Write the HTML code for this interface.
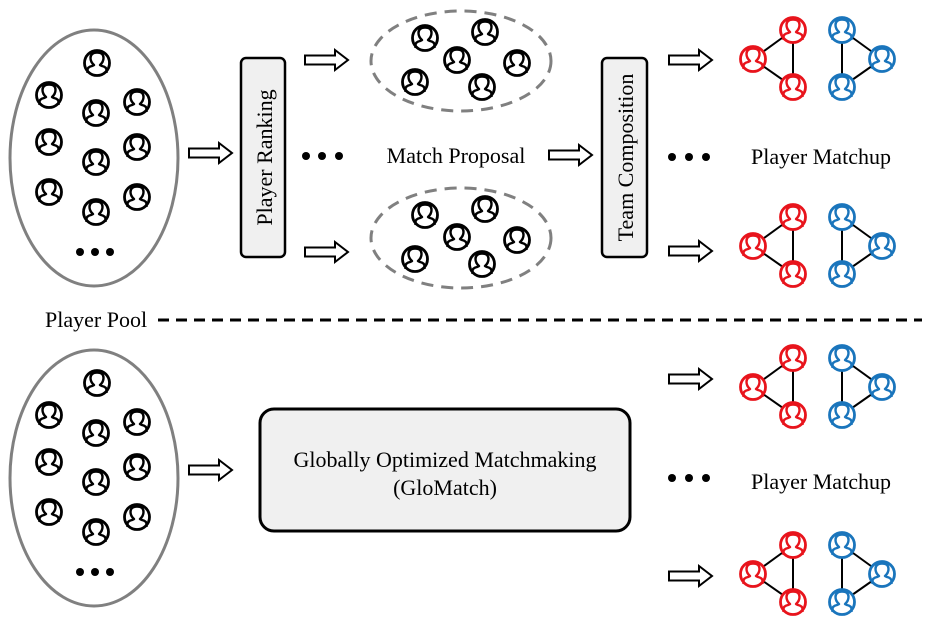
<!DOCTYPE html>
<html><head><meta charset="utf-8"><style>
html,body{margin:0;padding:0;background:#fff;}
svg{display:block;font-family:"Liberation Serif",serif;}
</style></head><body>
<svg width="940" height="632" viewBox="0 0 940 632" xmlns="http://www.w3.org/2000/svg">
<defs>
<g id="p">
 <circle cx="0" cy="0" r="12.5" fill="#fff" stroke="currentColor" stroke-width="2.8"/>
 <path d="M-9.5 10 L-9.5 7 Q-9.5 4 -5 3 L-3 2 Q-6.5 -1 -6.5 -5 Q-6.5 -10.5 0 -10.5 Q6.5 -10.5 6.5 -5 Q6.5 -1 3 2 L5 3 Q9.5 4 9.5 7 L9.5 10" fill="none" stroke="currentColor" stroke-width="2.4" stroke-linejoin="round"/>
</g>
<g id="ar"><path d="M0 -4.5 H30 V-10 L43 0 L30 10 V4.5 H0 Z" fill="#fff" stroke="#000" stroke-width="2" stroke-linejoin="miter"/></g>
<g id="mu">
 <line x1="793" y1="0" x2="753" y2="29" stroke="#000" stroke-width="2"/>
 <line x1="753" y1="29" x2="793" y2="57" stroke="#000" stroke-width="2"/>
 <line x1="793" y1="0" x2="793" y2="57" stroke="#000" stroke-width="2"/>
 <line x1="842" y1="0" x2="882" y2="29" stroke="#000" stroke-width="2"/>
 <line x1="882" y1="29" x2="842" y2="57" stroke="#000" stroke-width="2"/>
 <line x1="842" y1="0" x2="842" y2="57" stroke="#000" stroke-width="2"/>
 <g color="#e8141c"><use href="#p" x="793" y="0"/><use href="#p" x="753" y="29"/><use href="#p" x="793" y="57"/></g>
 <g color="#1a75bc"><use href="#p" x="842" y="0"/><use href="#p" x="882" y="29"/><use href="#p" x="842" y="57"/></g>
</g>
<g id="pool">
 <ellipse cx="94" cy="158" rx="84" ry="128" fill="#fff" stroke="#808080" stroke-width="3"/>
 <g color="#000">
 <use href="#p" x="97" y="63"/><use href="#p" x="49" y="95"/><use href="#p" x="137" y="102"/>
 <use href="#p" x="96" y="113"/><use href="#p" x="49" y="142"/><use href="#p" x="137" y="147"/>
 <use href="#p" x="96" y="162"/><use href="#p" x="49" y="192"/><use href="#p" x="137" y="197"/>
 <use href="#p" x="96" y="212"/>
 </g>
 <circle cx="80" cy="252" r="4"/><circle cx="95" cy="252" r="4"/><circle cx="110" cy="252" r="4"/>
</g>
<g id="prop">
 <ellipse cx="461" cy="0" rx="90" ry="50" fill="none" stroke="#808080" stroke-width="3" stroke-dasharray="12 8"/>
 <g color="#000">
 <use href="#p" x="425" y="-23"/><use href="#p" x="485" y="-29"/><use href="#p" x="457" y="-1"/>
 <use href="#p" x="517" y="2"/><use href="#p" x="415" y="21"/><use href="#p" x="482" y="26"/>
 </g>
</g>
</defs>

<!-- top -->
<use href="#pool"/>
<use href="#ar" x="189" y="153"/>
<rect x="241" y="58" width="44" height="199" rx="5" fill="#f0f0f0" stroke="#000" stroke-width="2.5"/>
<text transform="translate(272,157.5) rotate(-90)" text-anchor="middle" font-size="22">Player Ranking</text>
<use href="#ar" x="305" y="60"/>
<use href="#ar" x="305" y="252"/>
<use href="#prop" y="61"/>
<use href="#prop" y="238"/>
<circle cx="306" cy="156" r="4"/><circle cx="322" cy="156" r="4"/><circle cx="339" cy="156" r="4"/>
<text x="456" y="163" text-anchor="middle" font-size="22">Match Proposal</text>
<use href="#ar" x="549" y="155"/>
<rect x="602" y="58" width="45" height="199" rx="5" fill="#f0f0f0" stroke="#000" stroke-width="2.5"/>
<text transform="translate(633,157.5) rotate(-90)" text-anchor="middle" font-size="22">Team Composition</text>
<use href="#ar" x="669" y="60"/>
<use href="#ar" x="669" y="251"/>
<circle cx="672" cy="157" r="4"/><circle cx="689" cy="157" r="4"/><circle cx="706" cy="157" r="4"/>
<text x="821" y="164" text-anchor="middle" font-size="22">Player Matchup</text>
<use href="#mu" y="30"/>
<use href="#mu" y="217"/>

<!-- divider -->
<text x="45" y="327" font-size="22">Player Pool</text>
<line x1="158" y1="320" x2="922" y2="320" stroke="#000" stroke-width="3" stroke-dasharray="11 7"/>

<!-- bottom -->
<use href="#pool" y="320"/>
<use href="#ar" x="189" y="470"/>
<rect x="260" y="409" width="370" height="122" rx="14" fill="#f0f0f0" stroke="#000" stroke-width="3"/>
<text x="445" y="467" text-anchor="middle" font-size="22">Globally Optimized Matchmaking</text>
<text x="445" y="495" text-anchor="middle" font-size="22">(GloMatch)</text>
<use href="#ar" x="669" y="379"/>
<use href="#ar" x="669" y="576"/>
<circle cx="672" cy="478" r="4"/><circle cx="689" cy="478" r="4"/><circle cx="706" cy="478" r="4"/>
<text x="821" y="489" text-anchor="middle" font-size="22">Player Matchup</text>
<use href="#mu" y="358"/>
<use href="#mu" y="545"/>
</svg>
</body></html>
